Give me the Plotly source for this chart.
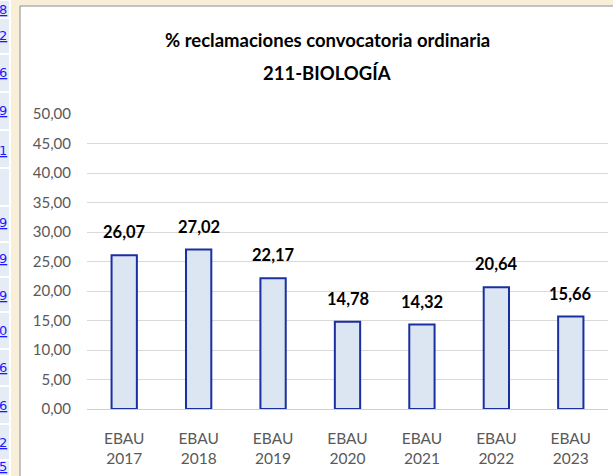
import plotly.graph_objects as go

categories = ["EBAU<br>2017", "EBAU<br>2018", "EBAU<br>2019", "EBAU<br>2020",
              "EBAU<br>2021", "EBAU<br>2022", "EBAU<br>2023"]
values = [26.07, 27.02, 22.17, 14.78, 14.32, 20.64, 15.66]
value_labels = ["26,07", "27,02", "22,17", "14,78", "14,32", "20,64", "15,66"]
y_ticks = [0, 5, 10, 15, 20, 25, 30, 35, 40, 45, 50]
side_digits = ["8", "2", "6", "9", "1", "", "9", "9", "9", "0", "6", "6", "2", "5"]

W, H = 613, 476
L, R, T, B = 87, 5, 114, 67
pw, ph = W - L - R, H - T - B

def px(x):
    return (x - L) / pw

def py(y):
    return (H - B - y) / ph

FONT = "Lato, Open Sans, sans-serif"

fig = go.Figure()
fig.add_trace(go.Bar(
    x=categories, y=values,
    marker=dict(color="#DCE6F2", line=dict(color="#1A2FA0", width=2)),
    width=0.34, hoverinfo="skip",
))

shapes = []
# beige page background
shapes.append(dict(type="rect", xref="paper", yref="paper", x0=px(0), x1=px(W), y0=py(H), y1=py(0),
                   fillcolor="#F9EFD9", line=dict(width=0), layer="below"))
# left cell strip
shapes.append(dict(type="rect", xref="paper", yref="paper", x0=px(0), x1=px(11), y0=py(H), y1=py(0),
                   fillcolor="#FFFFFF", line=dict(width=0), layer="below"))
row_edges = [0, 18, 54, 92, 130, 168, 206, 242, 277, 312, 349, 386, 424, 460, 476]
for i in range(len(row_edges) - 1):
    shapes.append(dict(type="rect", xref="paper", yref="paper", x0=px(0), x1=px(9),
                       y0=py(row_edges[i + 1] - 1), y1=py(row_edges[i] + 1),
                       fillcolor="#E6ECF5", line=dict(width=0), layer="below"))
# white chart panel
shapes.append(dict(type="rect", xref="paper", yref="paper", x0=px(20), x1=px(W + 5), y0=py(H + 5), y1=py(6),
                   fillcolor="#FFFFFF", line=dict(color="#8C8C8C", width=1), layer="below"))

annotations = []
centers = [9, 35, 72, 110, 150, 186, 222, 258, 295, 330, 367, 405, 442, 466]
for d, c in zip(side_digits, centers):
    if d:
        annotations.append(dict(text="<u>" + d + "</u>", xref="paper", yref="paper",
                                x=px(9), y=py(c), xanchor="right", yanchor="middle",
                                showarrow=False,
                                font=dict(family="DejaVu Sans, sans-serif", size=13, color="#1A1AFF")))
annotations.append(dict(text="% reclamaciones convocatoria ordinaria", xref="paper", yref="paper",
                        x=px(327), y=py(40), xanchor="center", yanchor="middle", showarrow=False,
                        font=dict(family=FONT, size=18.5, color="#000000", weight="bold")))
annotations.append(dict(text="211-BIOLOGÍA", xref="paper", yref="paper",
                        x=px(327), y=py(73), xanchor="center", yanchor="middle", showarrow=False,
                        font=dict(family=FONT, size=18.5, color="#000000", weight="bold")))
for c, v, t in zip(categories, values, value_labels):
    annotations.append(dict(text=t, xref="x", yref="y", x=c, y=v, yshift=23,
                            xanchor="center", yanchor="middle", showarrow=False,
                            font=dict(family=FONT, size=16.5, color="#000000", weight="bold")))

fig.update_layout(
    width=W, height=H,
    margin=dict(l=L, r=R, t=T, b=B, pad=0, autoexpand=False),
    paper_bgcolor="#FFFFFF", plot_bgcolor="rgba(0,0,0,0)",
    separators=",.",
    showlegend=False,
    shapes=shapes, annotations=annotations,
    bargap=0.65,
)
fig.update_yaxes(range=[0, 50], tickvals=y_ticks, tickformat=".2f",
                 showgrid=True, gridcolor="#D9D9D9", gridwidth=1,
                 zeroline=False, showline=False, ticks="", automargin=False,
                 ticklabelstandoff=15,
                 tickfont=dict(family=FONT, size=15, color="#595959"))
fig.update_xaxes(showline=True, linecolor="#D0D0D0", linewidth=1, ticks="", automargin=False,
                 tickfont=dict(family=FONT, size=15.5, color="#595959"),
                 ticklabelstandoff=15)

fig.write_html("out.html", config={"displayModeBar": False},
               post_script="document.body.style.margin='0';document.body.style.overflow='hidden';")
